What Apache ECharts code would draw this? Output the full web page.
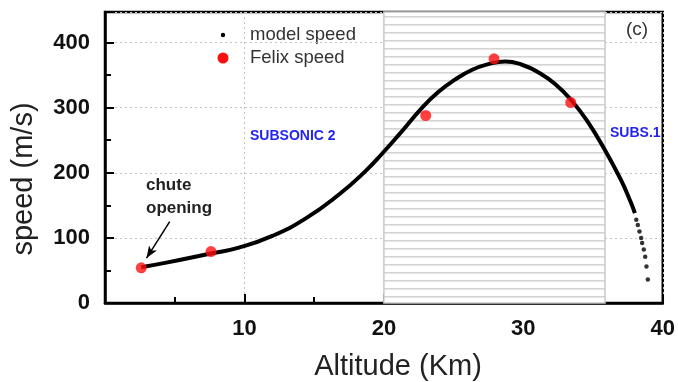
<!DOCTYPE html>
<html>
<head>
<meta charset="utf-8">
<script src="https://cdn.jsdelivr.net/npm/echarts@6/dist/echarts.min.js"></script>
<style>
  html, body { margin: 0; padding: 0; background: #fff; }
  #chart { width: 678px; height: 382px; }
</style>
</head>
<body>
<div id="chart"></div>
<script>
// model speed, continuous part (altitude km, speed m/s)
const modelAlt = [2.6, 4.4, 7.6, 9.6, 12.0, 14.4, 16.8, 18.7, 19.9, 21.1, 22.7, 23.9, 25.1, 26.3, 27.5, 28.7, 29.9, 31.1, 32.3, 33.5, 34.6, 35.8, 37.0, 37.7, 38.0];
const modelSpeed = [55, 62, 76, 85, 103, 130, 167, 203, 230, 259, 299, 324, 343, 358, 367, 371, 366, 354, 336, 310, 279, 237, 189, 155, 138];
// model speed, sparse tail points
const tailAlt = [38.1, 38.21, 38.33, 38.45, 38.52, 38.64, 38.74, 38.83, 38.93];
const tailSpeed = [128, 120, 110, 100, 92, 82, 71, 56, 36];
// Felix speed
const felixAlt = [2.6, 7.6, 23.0, 27.9, 33.4];
const felixSpeed = [54, 79, 288, 375, 308];

const xTicks = [10, 20, 30, 40];
const zone = [20, 35.86];

function zip(a, b) { return a.map((v, i) => [v, b[i]]); }

// horizontal stripe pattern for the transonic zone
const pat = document.createElement('canvas');
pat.width = 8; pat.height = 8;
const pctx = pat.getContext('2d');
pctx.fillStyle = '#fff';
pctx.fillRect(0, 0, 8, 8);
pctx.fillStyle = '#d4d4d4';
pctx.fillRect(0, 0, 8, 1.6);

const font = 'Liberation Sans, Arial, sans-serif';
const chart = echarts.init(document.getElementById('chart'));

chart.setOption({
  animation: false,
  grid: { left: 105, right: 13, top: 12, bottom: 79, show: true, borderColor: '#000', borderWidth: 2.5, containLabel: false },
  xAxis: {
    type: 'value', min: 0, max: 40, interval: 10,
    axisLine: { show: true, lineStyle: { color: '#000', width: 2.5 } },
    axisTick: { show: true, inside: true, length: 9, lineStyle: { color: '#000', width: 2 } },
    minorTick: { show: true, splitNumber: 2, length: 6, lineStyle: { color: '#000', width: 2 } },
    splitLine: { show: true, lineStyle: { color: '#c4c4c4', type: [2, 3], width: 1 } },
    axisLabel: {
      margin: 15, color: '#111', fontFamily: font, fontWeight: 'bold', fontSize: 22,
      formatter: v => xTicks.indexOf(v) >= 0 ? String(v) : ''
    }
  },
  yAxis: {
    type: 'value', min: 0, max: 447, interval: 100,
    axisLine: { show: true, lineStyle: { color: '#000', width: 2.5 } },
    axisTick: { show: true, inside: true, length: 9, lineStyle: { color: '#000', width: 2 } },
    minorTick: { show: true, splitNumber: 2, length: 6, lineStyle: { color: '#000', width: 2 } },
    splitLine: { show: true, lineStyle: { color: '#c4c4c4', type: [2, 3], width: 1 } },
    axisLabel: {
      margin: 15, color: '#111', fontFamily: font, fontWeight: 'bold', fontSize: 22,
      formatter: v => v % 100 === 0 ? String(v) : ''
    }
  },
  series: [
    {
      name: 'zone', type: 'line', data: [], z: 1, silent: true,
      markArea: {
        silent: true,
        itemStyle: { color: { image: pat, repeat: 'repeat' }, borderColor: '#c8c8c8', borderWidth: 1.5 },
        data: [[{ xAxis: zone[0], yAxis: 0 }, { xAxis: zone[1], yAxis: 447 }]]
      }
    },
    {
      name: 'model speed', type: 'line', smooth: true, symbol: 'none', z: 3,
      lineStyle: { color: '#000', width: 4 },
      data: zip(modelAlt, modelSpeed)
    },
    {
      name: 'model speed', type: 'scatter', symbolSize: 4.5, z: 3,
      itemStyle: { color: '#000' },
      data: zip(tailAlt, tailSpeed)
    },
    {
      name: 'Felix speed', type: 'scatter', symbolSize: 11, z: 4,
      itemStyle: { color: '#ff1010' },
      data: zip(felixAlt, felixSpeed),
      markLine: {
        silent: true, symbol: ['none', 'arrow'], symbolSize: [7, 12],
        lineStyle: { color: '#000', width: 1.5, type: 'solid' },
        label: { show: false },
        data: [[{ coord: [4.64, 125] }, { coord: [2.98, 69] }]]
      }
    }
  ],
  graphic: [
    { type: 'text', x: 398, y: 367, style: { text: 'Altitude (Km)', fill: '#222', font: '29px ' + font, align: 'center', verticalAlign: 'middle' } },
    { type: 'text', x: 24, y: 179, rotation: Math.PI / 2, style: { text: 'speed (m/s)', fill: '#222', font: '29px ' + font, align: 'center', verticalAlign: 'middle' } },
    { type: 'circle', shape: { cx: 223, cy: 35, r: 2.2 }, style: { fill: '#000' } },
    { type: 'text', x: 250, y: 35, style: { text: 'model speed', fill: '#333', font: '18.5px ' + font, verticalAlign: 'middle' } },
    { type: 'circle', shape: { cx: 223, cy: 58, r: 5.5 }, style: { fill: '#ff1010' } },
    { type: 'text', x: 250, y: 58, style: { text: 'Felix speed', fill: '#333', font: '18.5px ' + font, verticalAlign: 'middle' } },
    { type: 'text', x: 637, y: 30, style: { text: '(c)', fill: '#333', font: '19px ' + font, align: 'center', verticalAlign: 'middle' } },
    { type: 'text', x: 146, y: 185, style: { text: 'chute', fill: '#222', font: 'bold 17px ' + font, verticalAlign: 'middle' } },
    { type: 'text', x: 146, y: 208, style: { text: 'opening', fill: '#222', font: 'bold 17px ' + font, verticalAlign: 'middle' } },
    { type: 'text', x: 250, y: 136, style: { text: 'SUBSONIC 2', fill: '#2424f0', font: 'bold 14px ' + font, verticalAlign: 'middle' } },
    { type: 'text', x: 455, y: 168, style: { text: 'TRANSONIC-', fill: '#2424f0', font: 'bold 16px ' + font, verticalAlign: 'middle' } },
    { type: 'text', x: 455, y: 188, style: { text: 'SUPERSONIC', fill: '#2424f0', font: 'bold 16px ' + font, verticalAlign: 'middle' } },
    { type: 'text', x: 610, y: 133, style: { text: 'SUBS.1', fill: '#2424f0', font: 'bold 14px ' + font, verticalAlign: 'middle' } }
  ]
});
</script>
</body>
</html>
